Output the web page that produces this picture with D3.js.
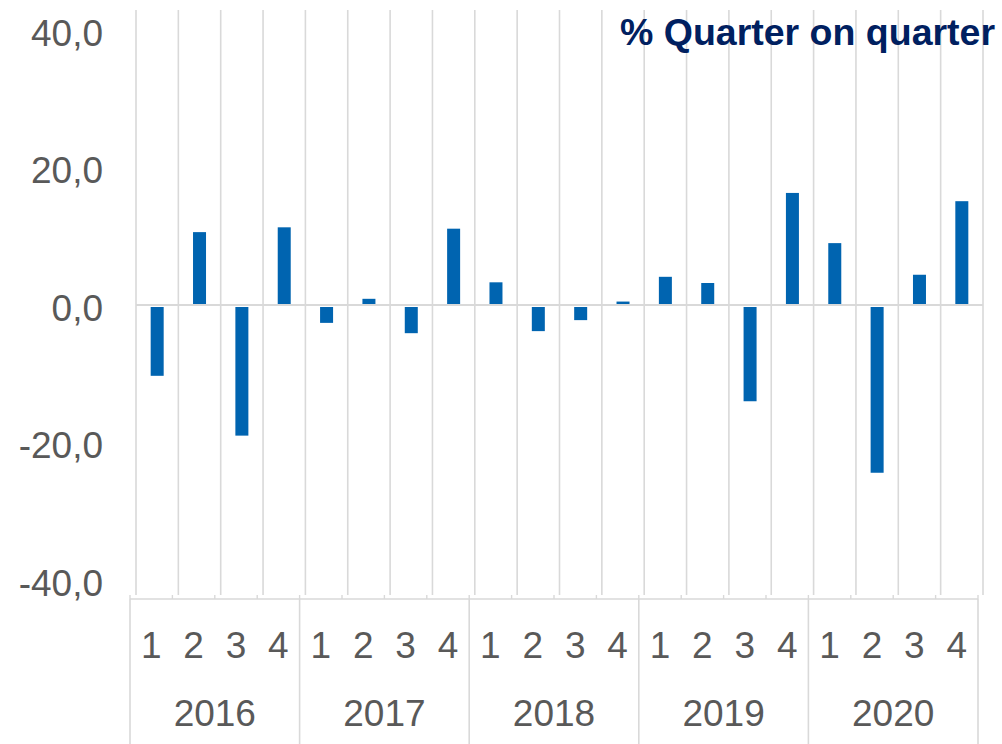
<!DOCTYPE html>
<html lang="en">
<head>
<meta charset="UTF-8">
<title>Quarter on quarter</title>
<script src="https://cdn.jsdelivr.net/npm/d3@7"></script>
<style>
  body { margin: 0; background: #fff; }
  svg { display: block; }
  text { font-family: "Liberation Sans", Arial, sans-serif; fill: #595959; }
</style>
</head>
<body>
<svg id="main" width="1002" height="744"></svg>
<script>
    // data
    const years = ["2016", "2017", "2018", "2019", "2020"];
    const quarters = ["1", "2", "3", "4"];
    const values = [
        -10.3, 10.6, -19.0, 11.3,
        -2.6, 0.9, -4.1, 11.1,
        3.3, -3.8, -2.2, 0.5,
        4.1, 3.2, -14.0, 16.3,
        9.0, -24.4, 4.4, 15.1
    ];
    const yTicks = [40, 20, 0, -20, -40];
    const title = "% Quarter on quarter";

    const svg = d3.select("#main");
    const gridColor = "#d9d9d9";

    const keys = [];
    years.forEach(y => quarters.forEach(q => keys.push(y + "-" + q)));
    const data = keys.map((k, i) => ({key: k, year: k.split("-")[0], q: k.split("-")[1], value: values[i]}));

    // plot area (bars + grid) and category axis sit a few px apart, like the original
    const xPlot = d3.scaleBand().domain(keys).range([136, 983]).padding(0);
    const xCat = d3.scaleBand().domain(keys).range([130, 978]).padding(0);
    const xYear = d3.scaleBand().domain(years).range([130, 978]).padding(0);
    const yScale = d3.scaleLinear().domain([-40, 40]).range([580, 30]);

    const gridTop = 10, gridBottom = 595, axisY = 599;

    // vertical grid lines
    const bounds = keys.map(k => xPlot(k)).concat([xPlot.range()[1]]);
    svg.append("g").selectAll("line")
        .data(bounds)
        .join("line")
        .attr("x1", d => d).attr("x2", d => d)
        .attr("y1", gridTop).attr("y2", gridBottom)
        .attr("stroke", gridColor)
        .attr("stroke-width", 1.6);

    // zero line
    svg.append("line")
        .attr("x1", xPlot.range()[0]).attr("x2", xPlot.range()[1])
        .attr("y1", yScale(0)).attr("y2", yScale(0))
        .attr("stroke", gridColor)
        .attr("stroke-width", 2);

    // bars
    const barW = 13;
    svg.append("g").selectAll("rect")
        .data(data)
        .join("rect")
        .attr("x", d => xPlot(d.key) + xPlot.bandwidth() / 2 - barW / 2)
        .attr("width", barW)
        .attr("y", d => d.value >= 0 ? yScale(d.value) : yScale(0) + 2)
        .attr("height", d => d.value >= 0 ? Math.max(0, yScale(0) - 1 - yScale(d.value)) : yScale(d.value) - yScale(0) - 2)
        .attr("fill", "#0064b0");

    // y labels (plain hyphen for the minus, comma decimal)
    svg.append("g").selectAll("text")
        .data(yTicks)
        .join("text")
        .attr("x", 103)
        .attr("y", d => yScale(d) + 3)
        .attr("text-anchor", "end")
        .attr("dominant-baseline", "central")
        .attr("font-size", 37)
        .text(d => d3.format(".1f")(d).replace(".", ",").replace("\u2212", "-"));

    // category axis
    svg.append("line")
        .attr("x1", xCat.range()[0]).attr("x2", xCat.range()[1])
        .attr("y1", axisY).attr("y2", axisY)
        .attr("stroke", gridColor)
        .attr("stroke-width", 1.6);

    svg.append("g").selectAll("line")
        .data(keys.map(k => xCat(k)).concat([xCat.range()[1]]))
        .join("line")
        .attr("x1", d => d).attr("x2", d => d)
        .attr("y1", axisY - 4).attr("y2", axisY)
        .attr("stroke", gridColor)
        .attr("stroke-width", 1.4);

    // year separators
    svg.append("g").selectAll("line")
        .data(years.map(y => xYear(y)).concat([xYear.range()[1]]))
        .join("line")
        .attr("x1", d => d).attr("x2", d => d)
        .attr("y1", axisY).attr("y2", 744)
        .attr("stroke", gridColor)
        .attr("stroke-width", 1.6);

    // quarter labels
    svg.append("g").selectAll("text")
        .data(data)
        .join("text")
        .attr("x", d => xCat(d.key) + xCat.bandwidth() / 2)
        .attr("y", 645)
        .attr("text-anchor", "middle")
        .attr("dominant-baseline", "central")
        .attr("font-size", 37)
        .text(d => d.q);

    // year labels
    svg.append("g").selectAll("text")
        .data(years)
        .join("text")
        .attr("x", d => xYear(d) + xYear.bandwidth() / 2)
        .attr("y", 713)
        .attr("text-anchor", "middle")
        .attr("dominant-baseline", "central")
        .attr("font-size", 37)
        .text(d => d);

    // title
    svg.append("text")
        .attr("x", 995)
        .attr("y", 45)
        .attr("text-anchor", "end")
        .attr("font-family", "'Open Sans', sans-serif")
        .attr("font-weight", 700)
        .attr("font-size", 37)
        .attr("textLength", 375)
        .attr("lengthAdjust", "spacingAndGlyphs")
        .style("fill", "#002060")
        .text(title);
</script>
</body>
</html>
